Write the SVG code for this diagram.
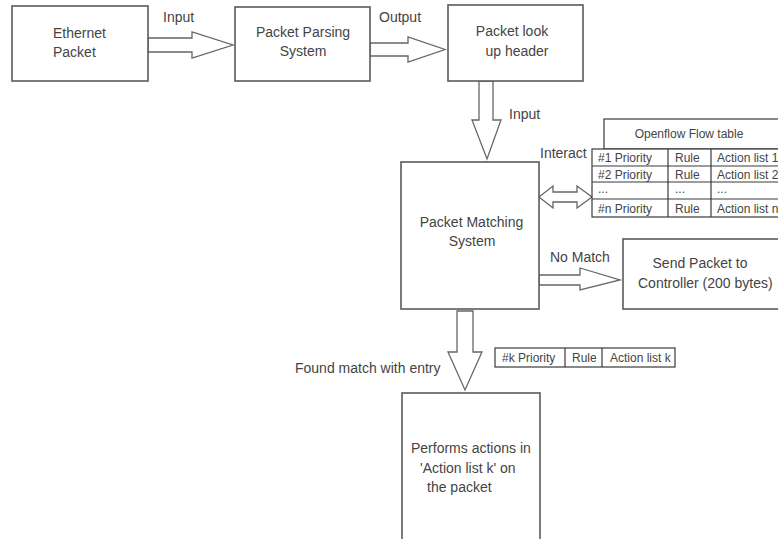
<svg xmlns="http://www.w3.org/2000/svg" width="778" height="539" viewBox="0 0 778 539">
<style>
.box{fill:#fff;stroke:#5a5a5a;stroke-width:1.6}
.arr{fill:#fff;stroke:#666;stroke-width:1.3;stroke-linejoin:miter}
.tb{fill:#fff;stroke:#3a3a3a;stroke-width:1.2}
.ln{stroke:#3a3a3a;stroke-width:1.2}
text{font-family:"Liberation Sans",Arial,sans-serif;font-size:14px;fill:#444}
.s{font-size:12px}
.t{font-size:12px}
.m{text-anchor:middle}
</style>
<rect width="778" height="539" fill="#fff"/>
<g id="connectors">
<polygon class="arr" points="148,38 192,38 192,32 233,45 192,58 192,52 148,52"/>
<polygon class="arr" points="370,43 408,43 408,37 445,49.5 408,62 408,56 370,56"/>
<polygon class="arr" points="479,81 493,81 493,120 501,120 487,159 472,120 479,120"/>
<polygon class="arr" points="539,197 553,186 553,192 577,192 577,186 592,197 577,208 577,202 553,202 553,208"/>
<polygon class="arr" points="539,275 580,275 580,268 620,280 580,290 580,285 539,285"/>
<polygon class="arr" points="457,311 473,311 473,352 482,352 465,390 448,352 457,352"/>
<text x="163" y="22">Input</text>
<text x="379" y="22">Output</text>
<text x="509" y="119">Input</text>
<text x="540" y="158">Interact</text>
<text x="550" y="262">No Match</text>
<text x="295" y="373">Found match with entry</text>
</g>
<g id="ethernet-packet">
<rect class="box" x="12" y="6" width="136" height="75"/>
<text x="53" y="38">Ethernet</text>
<text x="53" y="57">Packet</text>
</g>
<g id="packet-parsing">
<rect class="box" x="235" y="7" width="135" height="74"/>
<text class="m" x="303" y="37">Packet Parsing</text>
<text class="m" x="303" y="56">System</text>
</g>
<g id="packet-lookup">
<rect class="box" x="448" y="5" width="135" height="76"/>
<text class="m" x="512" y="36">Packet look</text>
<text class="m" x="517" y="56">up header</text>
</g>
<g id="packet-matching">
<rect class="box" x="401" y="162" width="138" height="147"/>
<text class="m" x="471.5" y="227">Packet Matching</text>
<text class="m" x="472" y="246">System</text>
</g>
<g id="flow-table">
<rect class="tb" x="604" y="119" width="190" height="30" stroke="#777"/>
<text class="t m" x="689" y="138">Openflow Flow table</text>
<rect class="tb" x="592" y="149" width="200" height="68"/>
<line class="ln" x1="592" y1="166" x2="790" y2="166"/>
<line class="ln" x1="592" y1="182" x2="790" y2="182"/>
<line class="ln" x1="592" y1="199" x2="790" y2="199"/>
<line class="ln" x1="668" y1="149" x2="668" y2="217"/>
<line class="ln" x1="711" y1="149" x2="711" y2="217"/>
<text class="s" x="598" y="162">#1 Priority</text>
<text class="s" x="675" y="162">Rule</text>
<text class="s" x="717" y="162">Action list 1</text>
<text class="s" x="598" y="178.5">#2 Priority</text>
<text class="s" x="675" y="178.5">Rule</text>
<text class="s" x="717" y="178.5">Action list 2</text>
<text class="s" x="598" y="193" fill="#999">...</text>
<text class="s" x="675" y="193" fill="#999">...</text>
<text class="s" x="717" y="193" fill="#999">...</text>
<text class="s" x="598" y="212.5">#n Priority</text>
<text class="s" x="675" y="212.5">Rule</text>
<text class="s" x="717" y="212.5">Action list n</text>
</g>
<g id="send-controller">
<rect class="box" x="623" y="239" width="170" height="70"/>
<text class="m" x="700" y="268">Send Packet to</text>
<text x="638" y="288">Controller (200 bytes)</text>
</g>
<g id="entry-k">
<rect class="tb" x="495" y="348" width="180" height="19" stroke="#666"/>
<line class="ln" x1="565" y1="348" x2="565" y2="367" stroke="#666"/>
<line class="ln" x1="602" y1="348" x2="602" y2="367" stroke="#666"/>
<text class="s" x="502" y="362">#k Priority</text>
<text class="s" x="572" y="362">Rule</text>
<text class="s" x="610" y="362">Action list k</text>
</g>
<g id="perform-actions">
<rect class="box" x="402" y="393" width="138" height="160"/>
<text x="411" y="453">Performs actions in</text>
<text x="420" y="473">'Action list k' on</text>
<text x="427" y="492">the packet</text>
</g>
</svg>
